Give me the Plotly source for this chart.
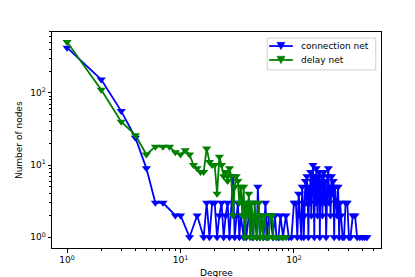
import plotly.graph_objects as go

# connection net degree distribution
conn_degree = [1, 2, 3, 4, 5, 6, 7, 9, 10, 12, 14, 16, 17, 18, 19, 20, 21, 22, 23, 24, 25, 26, 27, 29, 30,
               31, 32, 33, 34, 36, 37, 38, 40, 42, 43, 45, 47, 48, 50, 52, 54, 56, 58, 60, 62, 65, 68, 70,
               73, 76, 80, 85, 90, 95, 100, 104, 107, 110, 113, 116, 118, 120, 122, 124, 126, 128, 130,
               132, 134, 136, 138, 140, 142, 145, 147, 149, 151, 153, 155, 157, 159, 161, 163, 165, 167,
               169, 171, 173, 176, 178, 180, 183, 186, 189, 192, 195, 198, 201, 204, 207, 210, 214, 218,
               222, 226, 230, 235, 240, 245, 250, 255, 260, 268, 276, 285, 295, 305, 315, 330, 345, 360,
               380, 400, 420, 440]
conn_count = [424, 153, 56, 24, 9, 3, 3, 2, 2, 1, 2, 1, 3, 1, 3, 3, 1, 2, 3, 1, 2, 3, 1, 7, 1,
              2, 3, 1, 2, 1, 3, 1, 2, 3, 1, 2, 1, 5, 1, 2, 1, 3, 1, 2, 2, 1, 2, 1,
              1, 2, 1, 2, 1, 1, 3, 3, 1, 4, 2, 1, 5, 3, 1, 2, 6, 3, 7,
              4, 1, 5, 3, 8, 2, 6, 10, 4, 1, 7, 3, 9, 5, 2, 7, 4, 8,
              1, 6, 3, 7, 2, 5, 8, 3, 6, 1, 4, 7, 9, 3, 5, 2, 7, 4,
              6, 1, 5, 3, 2, 5, 1, 3, 2, 1, 1, 3, 3, 1, 1, 2, 2, 1,
              1, 1, 1, 1]

# delay net degree distribution
delay_degree = [1, 2, 3, 4, 5, 6, 7, 8, 9, 10, 11, 12, 13, 14, 15, 16, 17, 18, 19, 20, 21, 22, 23, 24,
                25, 26, 27, 28, 29, 30, 31, 32, 33, 34, 35, 36, 37, 38, 39, 40, 41, 42, 43, 44, 45, 46,
                47, 48, 49, 50, 52, 53, 55, 57, 60, 62, 64, 66, 70, 75, 79, 85]
delay_count = [509, 111, 40, 26, 14, 18, 18, 18, 15, 14, 16, 14, 10, 9, 8, 8, 17, 11, 10, 10, 4, 13, 10, 7,
               8, 6, 9, 7, 2, 5, 7, 6, 3, 5, 2, 5, 1, 3, 2, 4, 1, 3, 2, 1, 3, 2,
               1, 2, 3, 1, 2, 1, 2, 1, 1, 2, 2, 1, 1, 1, 1, 1]

series_names = ["connection net", "delay net"]
series_colors = ["#0000ff", "#008000"]

x_tick_vals = [1, 10, 100]
x_tick_text = ["10<sup>0</sup>", "10<sup>1</sup>", "10<sup>2</sup>"]
y_tick_vals = [1, 10, 100]
y_tick_text = ["10<sup>0</sup>", "10<sup>1</sup>", "10<sup>2</sup>"]

minor_vals = [m * d for d in (1, 10, 100) for m in range(2, 10)]

fig = go.Figure()
for xs, ys, name, col in [(conn_degree, conn_count, series_names[0], series_colors[0]),
                          (delay_degree, delay_count, series_names[1], series_colors[1])]:
    fig.add_trace(go.Scatter(
        x=xs, y=ys, mode="lines+markers", name=name, showlegend=False,
        line=dict(color=col, width=1.8),
        marker=dict(symbol="triangle-down", size=8, color=col, line=dict(width=0)),
    ))

font = dict(family="DejaVu Sans", size=9, color="black")
axis_common = dict(
    type="log", showgrid=False, zeroline=False, showline=True, linecolor="black",
    linewidth=1, mirror=True, ticks="outside", ticklen=3.5, tickwidth=0.8, tickcolor="black",
    tickfont=font,
    minor=dict(ticks="outside", ticklen=2, tickwidth=0.6, tickcolor="black", tickvals=minor_vals,
               showgrid=False),
)
fig.update_xaxes(**axis_common, range=[-0.133, 2.767], tickvals=x_tick_vals, ticktext=x_tick_text)
fig.update_yaxes(**axis_common, range=[-0.15, 2.845], tickvals=y_tick_vals, ticktext=y_tick_text)

# compact matplotlib-style legend drawn in paper coordinates
plot_w, plot_h = 321.0, 211.0
box_x0, box_x1, box_y0, box_y1 = 0.654, 0.984, 0.8246, 0.9716
line_x0, line_x1 = 0.660, 0.732
mark_x = (line_x0 + line_x1) / 2
text_x = 0.751
row_y = [0.935, 0.8706]
dx, dy = 4.0 / plot_w, 3.6 / plot_h

shapes = [dict(type="rect", xref="paper", yref="paper", x0=box_x0, x1=box_x1, y0=box_y0, y1=box_y1,
               line=dict(color="#d0d0d0", width=1), fillcolor="rgba(255,255,255,0.85)", layer="above")]
annotations = []
for name, col, yy in zip(series_names, series_colors, row_y):
    shapes.append(dict(type="line", xref="paper", yref="paper", x0=line_x0, x1=line_x1, y0=yy, y1=yy,
                       line=dict(color=col, width=1.8), layer="above"))
    shapes.append(dict(type="path", xref="paper", yref="paper",
                       path=f"M {mark_x - dx},{yy + dy} L {mark_x + dx},{yy + dy} L {mark_x},{yy - dy} Z",
                       fillcolor=col, line=dict(color=col, width=0.5), layer="above"))
    annotations.append(dict(text=name, xref="paper", yref="paper", x=text_x, y=yy, xanchor="left",
                            yanchor="middle", showarrow=False, font=font))

annotations += [
    dict(text="Degree", xref="paper", yref="paper", x=0.5, y=-0.117, xanchor="center",
         yanchor="middle", showarrow=False, font=font),
    dict(text="Number of nodes", xref="paper", yref="paper", x=-0.1, y=0.5, xanchor="center",
         yanchor="middle", textangle=-90, showarrow=False, font=font),
]

# the page body adds an 8px offset, so the figure is 8px smaller and margins are shifted
fig.update_layout(
    width=407, height=269, autosize=False,
    margin=dict(l=44, r=34, t=24, b=26),
    paper_bgcolor="white", plot_bgcolor="white",
    font=font,
    showlegend=False,
    shapes=shapes,
    annotations=annotations,
)

fig.write_html("out.html")
